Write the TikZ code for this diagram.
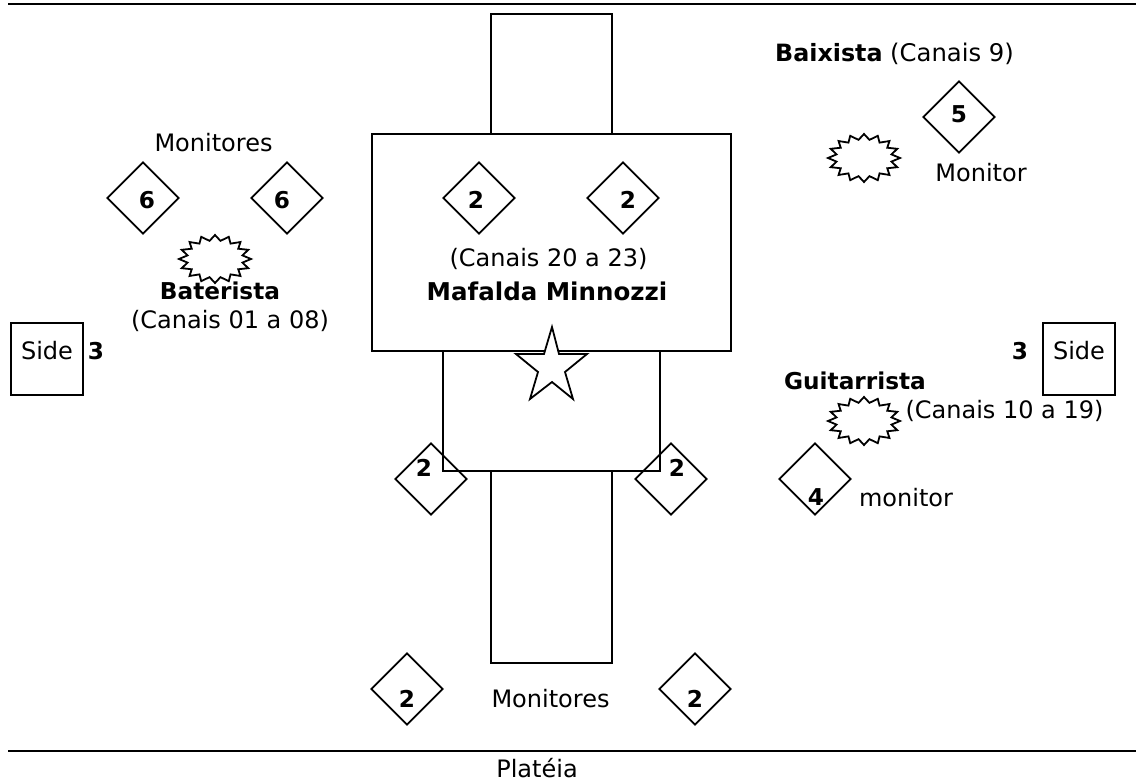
\documentclass[tikz,border=0pt]{standalone}
\usepackage{fontspec}
\setmainfont{DejaVu Sans}
\usetikzlibrary{shapes.geometric}
\tikzset{
  x=1pt,y=-1pt,
  lbl/.style={inner sep=0pt,font=\fontsize{24}{28}\selectfont},
  bold/.style={inner sep=0pt,font=\fontsize{23.2}{28}\selectfont\bfseries},
  boxshape/.style={draw=black,line width=1.8pt,line join=miter},
  mon/.style={draw=black,line width=1.8pt,diamond,minimum width=72pt,minimum height=72pt,inner sep=0pt,aspect=1},
  burstline/.style={draw=black,line width=1.8pt,line join=miter,fill=white},
  rule/.style={draw=black,line width=1.8pt}
}
\newcommand{\burst}[2]{%
  \draw[burstline,shift={(#1,#2)}] (0:36 and 24)
  \foreach \k in {1,...,31}{ -- ({\k*11.25}:{36-8*mod(\k,2)} and {24-5.5*mod(\k,2)}) } -- cycle;
}
\begin{document}
\begin{tikzpicture}
\useasboundingbox (0,0) rectangle (1136,781);
\coordinate (tl) at (8,4); \coordinate (tr) at (1136,4);
\coordinate (bl) at (8,751); \coordinate (br) at (1136,751);
\draw[rule] (tl) -- (tr);
\draw[rule] (bl) -- (br);
\node[lbl] (platea) at (537,768) {Platéia};

\draw[boxshape] (491,14) rectangle (612,134);
\draw[boxshape] (372,134) rectangle (731,351);
\draw[boxshape] (443,351) rectangle (660,471);
\draw[boxshape] (491,471) rectangle (612,663);
\draw[boxshape] (11,323) rectangle (83,395);
\draw[boxshape] (1043,323) rectangle (1115,395);

\draw[boxshape,fill=white] (552,327) -- (559,354) -- (587,354) -- (565,372) -- (573,399)
  -- (552,382) -- (530,399) -- (538,372) -- (516,354) -- (544,354) -- cycle;

\node[mon] (m1) at (143,198) {};
\node[mon] (m2) at (287,198) {};
\node[mon] (m3) at (479,198) {};
\node[mon] (m4) at (623,198) {};
\node[mon] (m5) at (431,479) {};
\node[mon] (m6) at (671,479) {};
\node[mon] (m7) at (407,689) {};
\node[mon] (m8) at (695,689) {};
\node[mon] (m9) at (959,117) {};
\node[mon] (m10) at (815,479) {};

\node[bold] at (147,200) {6};
\node[bold] at (282,200) {6};
\node[bold] at (476,200) {2};
\node[bold] at (628,200) {2};
\node[bold] at (424,468) {2};
\node[bold] at (677,468) {2};
\node[bold] at (407,699) {2};
\node[bold] at (695,699) {2};
\node[bold] at (959,114) {5};
\node[bold] at (816,497) {4};
\node[bold] at (96,351) {3};
\node[bold] at (1020,351) {3};

\burst{215}{259}
\burst{864}{158}
\burst{864}{421}

\node[lbl] at (213.5,143) {Monitores};
\node[bold] at (220,291) {Baterista};
\node[lbl] at (230,321) {(Canais 01 a 08)};
\node[lbl] at (47,351) {Side};
\node[lbl] at (1079,351) {Side};
\node[lbl] at (548.5,259) {(Canais 20 a 23)};
\node[bold,font=\fontsize{24.5}{28}\selectfont\bfseries] at (547,291) {Mafalda Minnozzi};
\node[lbl,anchor=west] at (775,54) {\fontsize{23.8}{28}\selectfont\textbf{Baixista} \fontsize{24.3}{28}\selectfont (Canais 9)};
\node[lbl] at (981,173) {Monitor};
\node[bold] at (855,381) {Guitarrista};
\node[lbl] at (1004.5,411) {(Canais 10 a 19)};
\node[lbl] at (906,498) {monitor};
\node[lbl] at (550.5,699) {Monitores};
\end{tikzpicture}
\end{document}
